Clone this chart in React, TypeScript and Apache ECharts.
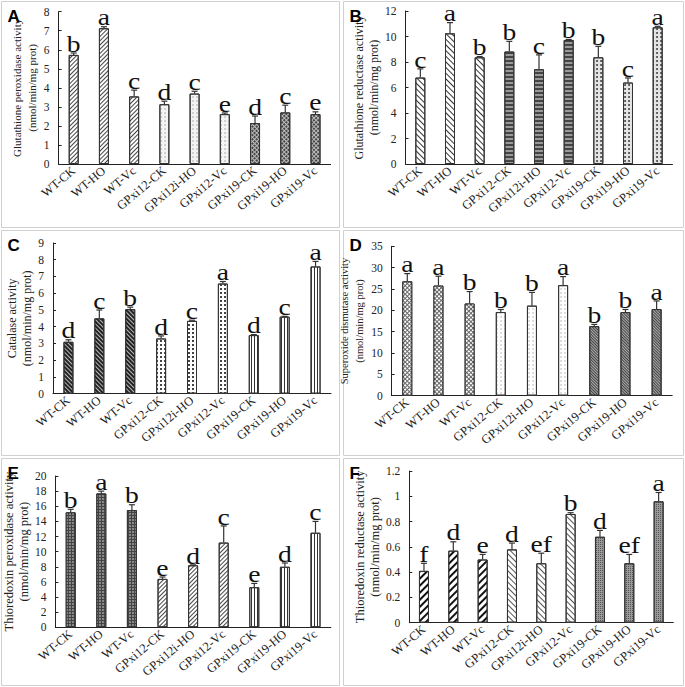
import React, { useEffect, useRef } from "react";
import * as echarts from "echarts";

const categories = ["WT-CK", "WT-HO", "WT-Vc", "GPxi12-CK", "GPxi12i-HO", "GPxi12-Vc", "GPxi19-CK", "GPxi19-HO", "GPxi19-Vc"];

// A: Glutathione peroxidase
const gpxValues = [5.73, 7.13, 3.55, 3.14, 3.7, 2.62, 2.15, 2.71, 2.62];
const gpxErrors = [0.1, 0.08, 0.33, 0.16, 0.12, 0.06, 0.37, 0.38, 0.12];
const gpxLetters = ["b", "a", "c", "d", "c", "e", "d", "c", "e"];

// B: Glutathione reductase
const grValues = [6.78, 10.25, 8.37, 8.82, 7.43, 9.73, 8.37, 6.39, 10.72];
const grErrors = [0.68, 0.84, 0.06, 0.8, 1.13, 0.04, 0.86, 0.36, 0.08];
const grLetters = ["c", "a", "b", "b", "c", "b", "b", "c", "a"];

// C: Catalase
const catValues = [3.1, 4.5, 5.05, 3.3, 4.35, 6.58, 3.5, 4.6, 7.6];
const catErrors = [0.12, 0.5, 0.12, 0.15, 0.04, 0.12, 0.03, 0.02, 0.3];
const catLetters = ["d", "c", "b", "d", "c", "a", "d", "c", "a"];

// D: Superoxide dismutase
const sodValues = [26.8, 25.8, 21.6, 19.6, 21.1, 25.9, 16.3, 19.6, 20.3];
const sodErrors = [1.8, 2.2, 2.8, 0.6, 3.1, 2.0, 0.4, 0.6, 1.9];
const sodLetters = ["a", "a", "b", "b", "b", "a", "b", "b", "a"];

// E: Thioredoxin peroxidase
const tpxValues = [15.2, 17.7, 15.5, 6.4, 8.2, 11.2, 5.3, 8.0, 12.5];
const tpxErrors = [0.4, 0.3, 0.7, 0.25, 0.05, 2.2, 0.5, 0.5, 1.5];
const tpxLetters = ["b", "a", "b", "e", "d", "c", "e", "d", "c"];

// F: Thioredoxin reductase
const trValues = [0.41, 0.57, 0.5, 0.58, 0.47, 0.86, 0.68, 0.47, 0.96];
const trErrors = [0.06, 0.07, 0.04, 0.05, 0.08, 0.01, 0.05, 0.07, 0.07];
const trLetters = ["f", "d", "e", "d", "ef", "b", "d", "ef", "a"];

const yMaxes = [8, 12, 9, 35, 20, 1.2];
const yIntervals = [1, 2, 1, 5, 2, 0.2];
const panelLetters = ["A", "B", "C", "D", "E", "F"];
const yNames = [
  "Glutathione peroxidase activity\n(nmol/min/mg prot)",
  "Glutathione reductase activity\n(nmol/min/mg prot)",
  "Catalase activity\n(nmol/min/mg prot)",
  "Superoxide dismutase activity\n(nmol/min/mg prot)",
  "Thioredoxin peroxidase activity\n(nmol/min/mg prot)",
  "Thioredoxin reductase activity\n(nmol/min/mg prot)",
];

const SERIF = "'Liberation Serif', 'Times New Roman', serif";

// layout (pixels)
const grids = [
  { left: 58.6, top: 11.7, width: 272, height: 152.3 },
  { left: 405.5, top: 11, width: 267, height: 153 },
  { left: 53, top: 243, width: 278, height: 150.7 },
  { left: 391.7, top: 246.3, width: 280.5, height: 149.4 },
  { left: 53.3, top: 476, width: 277.5, height: 151.3 },
  { left: 409.3, top: 471, width: 264, height: 151.7 },
];
const nameGaps = [14, 17.5, 14.5, 15, 17.5, 25.5];
const nameSizes = [11, 12, 12, 10.5, 12.5, 12.5];
const panelBoxes = [
  { x: 1.5, y: 1.5, w: 338, h: 226 },
  { x: 343.5, y: 1.5, w: 340, h: 226 },
  { x: 1.5, y: 230.5, w: 338, h: 225 },
  { x: 343.5, y: 230.5, w: 340, h: 225 },
  { x: 1.5, y: 458.5, w: 338, h: 227 },
  { x: 343.5, y: 458.5, w: 340, h: 227 },
];

const stripes = (rot: number, w: number, gap: number, color: string) => ({
  symbol: "rect",
  symbolSize: 1,
  dashArrayX: [1, 0],
  dashArrayY: [w, gap],
  rotation: rot,
  color,
});
const dots = (size: number, step: number, color: string) => ({
  symbol: "circle",
  symbolSize: size,
  dashArrayX: [step, step],
  dashArrayY: [step, step],
  color,
});
const grid2 = (a: number, b: number, color: string, rot = 0) => ({
  symbol: "rect",
  symbolSize: 1,
  dashArrayX: [a, b],
  dashArrayY: [a, b],
  rotation: rot,
  color,
});

const P = Math.PI / 4;
// [WT, GPxi12, GPxi19] styles per panel: [fill, decal]
const panelStyles: any[][] = [
  [["#fff", stripes(-P, 1, 1.2, "#444")], ["#f4f4f4", dots(0.6, 2, "#888")], ["#bbb", grid2(1.5, 1, "#444", P)]],
  [["#fff", stripes(P, 1, 3, "#333")], ["#999", stripes(0, 2, 2, "#444")], ["#e4e4e4", dots(0.9, 1.5, "#333")]],
  [["#bbb", stripes(P, 1.3, 1, "#222")], ["#fff", grid2(2, 2, "#444")], ["#fff", stripes(Math.PI / 2, 1, 1.8, "#333")]],
  [["#666", grid2(2, 1, "#fff", P)], ["#fff", dots(0.6, 1.6, "#999")], ["#aaa", stripes(P, 1, 1, "#444")]],
  [["#444", grid2(1.5, 1, "#888")], ["#fff", stripes(-P, 1, 1.5, "#444")], ["#fff", stripes(Math.PI / 2, 1, 2, "#333")]],
  [["#fff", stripes(-P, 2, 2.5, "#111")], ["#fff", stripes(P, 1, 2.5, "#555")], ["#999", grid2(1, 1, "#555")]],
];

const panelData = [
  [gpxValues, gpxErrors, gpxLetters],
  [grValues, grErrors, grLetters],
  [catValues, catErrors, catLetters],
  [sodValues, sodErrors, sodLetters],
  [tpxValues, tpxErrors, tpxLetters],
  [trValues, trErrors, trLetters],
] as [number[], number[], string[]][];

function buildOption() {
  const grid: any[] = [];
  const xAxis: any[] = [];
  const yAxis: any[] = [];
  const series: any[] = [];
  const graphic: any[] = [];

  panelBoxes.forEach((b, k) => {
    graphic.push({
      type: "rect",
      shape: { x: b.x, y: b.y, width: b.w, height: b.h },
      style: { fill: "none", stroke: "#d0d0d0", lineWidth: 1 },
      silent: true,
    });
    graphic.push({
      type: "text",
      x: b.x + 6,
      y: b.y + 6,
      style: {
        text: panelLetters[k],
        font: "bold 17px 'Liberation Sans', Arial, sans-serif",
        fill: "#000",
      },
    });
  });

  panelData.forEach(([vals, errs, letters], k) => {
    grid.push({ ...grids[k], containLabel: false });
    xAxis.push({
      type: "category",
      gridIndex: k,
      data: categories,
      axisLine: { lineStyle: { color: "#222", width: 1 } },
      axisTick: { inside: true, length: 4, lineStyle: { color: "#222" } },
      axisLabel: {
        rotate: 40,
        interval: 0,
        fontFamily: SERIF,
        fontSize: 12.5,
        color: "#222",
        margin: 5,
      },
      splitLine: { show: false },
    });
    yAxis.push({
      type: "value",
      gridIndex: k,
      min: 0,
      max: yMaxes[k],
      interval: yIntervals[k],
      name: yNames[k],
      nameLocation: "middle",
      nameGap: nameGaps[k],
      nameRotate: 90,
      nameTextStyle: {
        fontFamily: SERIF,
        fontSize: nameSizes[k],
        color: "#222",
        lineHeight: 15,
      },
      axisLine: { show: true, lineStyle: { color: "#222", width: 1 } },
      axisTick: { show: true, inside: true, length: 3, lineStyle: { color: "#222" } },
      axisLabel: {
        fontFamily: SERIF,
        fontSize: 11.5,
        color: "#222",
        margin: 9,
        formatter: (v: number) => String(+v.toFixed(1)),
      },
      splitLine: { show: false },
    });
    series.push({
      type: "bar",
      xAxisIndex: k,
      yAxisIndex: k,
      barWidth: 10,
      data: vals.map((v, i) => {
        const st = panelStyles[k][Math.floor(i / 3)];
        return {
          value: v,
          itemStyle: { color: st[0], decal: st[1], borderColor: "#333", borderWidth: 1 },
        };
      }),
    });
    series.push({
      type: "custom",
      xAxisIndex: k,
      yAxisIndex: k,
      z: 5,
      data: vals.map((v, i) => [i, v, errs[i]]),
      renderItem: (params: any, api: any) => {
        const i = api.value(0);
        const v = api.value(1);
        const e = api.value(2);
        const base = api.coord([i, v]);
        const top = api.coord([i, v + e]);
        const cap = 3;
        const children: any[] = [
          {
            type: "line",
            shape: { x1: base[0], y1: base[1], x2: top[0], y2: top[1] },
            style: { stroke: "#333", lineWidth: 1.2 },
          },
          {
            type: "line",
            shape: { x1: top[0] - cap, y1: top[1], x2: top[0] + cap, y2: top[1] },
            style: { stroke: "#333", lineWidth: 1.2 },
          },
          {
            type: "text",
            x: top[0],
            y: top[1] + 2,
            scaleX: 1.2,
            style: {
              text: letters[params.dataIndex],
              fontFamily: SERIF,
              fontSize: 23,
              fill: "#111",
              align: "center",
              verticalAlign: "bottom",
            },
          },
        ];
        return { type: "group", children };
      },
    });
  });

  return {
    animation: false,
    backgroundColor: "#fff",
    grid,
    xAxis,
    yAxis,
    series,
    graphic,
  };
}

export default function App() {
  const ref = useRef<HTMLDivElement>(null);
  useEffect(() => {
    if (!ref.current) return;
    const chart = echarts.init(ref.current, undefined, { renderer: "svg" });
    chart.setOption(buildOption() as any);
    return () => chart.dispose();
  }, []);
  return (
    <div
      ref={ref}
      style={{ position: "absolute", left: 0, top: 0, width: 685, height: 687, background: "#fff" }}
    />
  );
}
